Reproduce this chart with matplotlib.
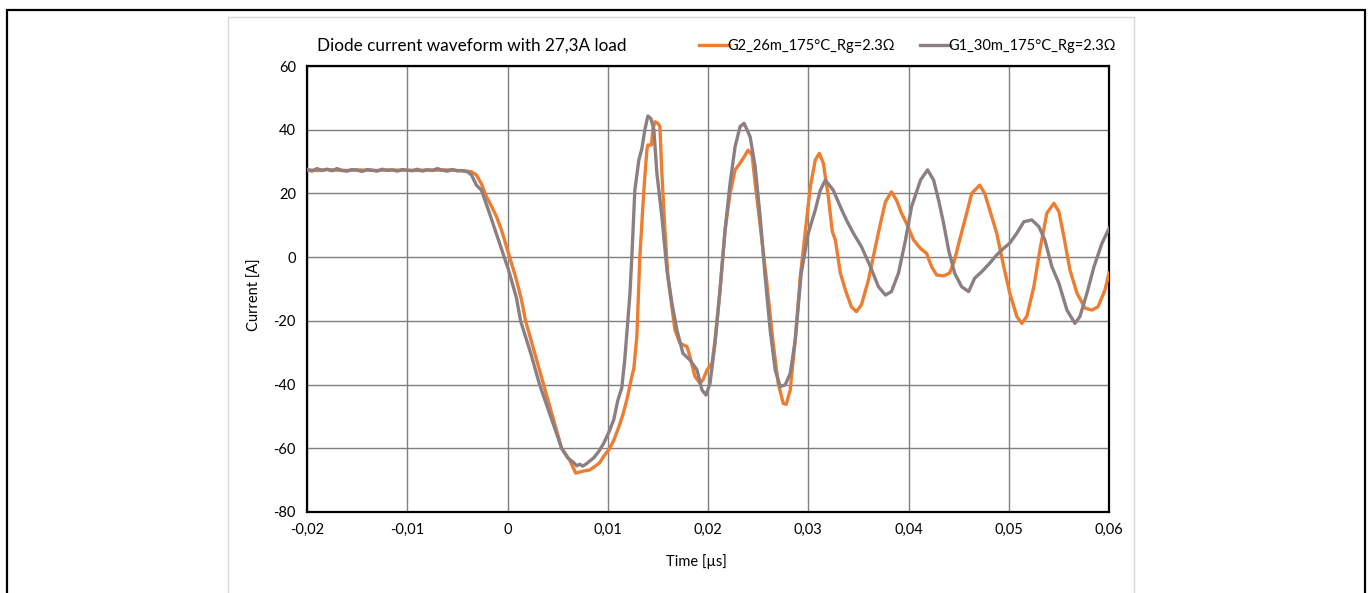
import matplotlib.pyplot as plt
from matplotlib.patches import Rectangle
from matplotlib.ticker import FuncFormatter, MultipleLocator

plt.rcParams['font.family'] = ['Lato', 'DejaVu Sans']
plt.rcParams['axes.unicode_minus'] = False

# G2_26m waveform (time in us, current in A)
t_g2 = [-0.0200, -0.0190, -0.0180, -0.0170, -0.0160, -0.0150, -0.0140, -0.0130,
        -0.0120, -0.0110, -0.0100, -0.0090, -0.0080, -0.0070, -0.0060, -0.0050,
        -0.0041, -0.0036, -0.0031, -0.0026, -0.0021, -0.0016, -0.0011, -0.0006,
        -0.0001, 0.0004, 0.0009, 0.0014, 0.0018, 0.0027, 0.0036, 0.0045,
        0.0054, 0.0062, 0.0068, 0.0075, 0.0082, 0.0088, 0.0092, 0.0096,
        0.0101, 0.0106, 0.0111, 0.0115, 0.0119, 0.0124, 0.0126, 0.0129,
        0.0132, 0.0136, 0.0139, 0.0140, 0.01435, 0.0145, 0.0147, 0.0150,
        0.0152, 0.0154, 0.0157, 0.0160, 0.0164, 0.0167, 0.0172, 0.0179,
        0.0182, 0.0187, 0.0192, 0.0195, 0.0199, 0.0204, 0.0207, 0.0212,
        0.0217, 0.0222, 0.0227, 0.0232, 0.0236, 0.0240, 0.0244, 0.0247,
        0.0252, 0.0258, 0.0265, 0.0270, 0.0275, 0.0278, 0.0282, 0.0287,
        0.0292, 0.0297, 0.0302, 0.0307, 0.0311, 0.0315, 0.0320, 0.0324,
        0.0327, 0.0332, 0.0337, 0.0343, 0.0348, 0.0353, 0.0360, 0.0367,
        0.0372, 0.0377, 0.0383, 0.0388, 0.0393, 0.0398, 0.0405, 0.0412,
        0.0418, 0.0423, 0.0428, 0.0435, 0.0441, 0.0446, 0.0451, 0.0458,
        0.0463, 0.0471, 0.0476, 0.0481, 0.0488, 0.0495, 0.0501, 0.0508,
        0.0513, 0.0518, 0.0525, 0.0531, 0.0538, 0.0545, 0.0550, 0.0555,
        0.0561, 0.0568, 0.0576, 0.0583, 0.0589, 0.0596, 0.0600]
i_g2 = [27.4, 27.2, 27.5, 27.3, 27.2, 27.4, 27.3, 27.2,
        27.4, 27.3, 27.3, 27.2, 27.4, 27.3, 27.4, 27.2,
        27.0, 26.8, 25.8, 23.0, 19.0, 16.0, 12.7, 8.5,
        3.3, -2.0, -7.2, -13.5, -20.0, -30.0, -40.0, -50.0,
        -60.0, -63.7, -67.8, -67.2, -66.8, -65.5, -64.5, -62.5,
        -60.5, -57.5, -53.3, -49.5, -44.8, -37.5, -35.0, -25.0,
        0.0, 21.0, 33.6, 35.2, 35.2, 40.0, 42.5, 42.0,
        41.0, 26.3, 8.5, -6.2, -15.6, -22.9, -27.0, -28.1,
        -31.2, -37.5, -39.6, -38.5, -35.4, -33.3, -26.0, -10.3,
        8.5, 20.0, 27.4, 29.5, 31.5, 33.6, 32.0, 23.2,
        10.0, -6.2, -27.0, -39.6, -45.9, -46.2, -41.7, -26.0,
        -6.2, 8.0, 22.0, 30.5, 32.6, 29.5, 19.0, 8.0,
        5.4, -5.0, -10.3, -15.6, -17.1, -15.0, -7.2, 3.3,
        10.6, 17.4, 20.5, 17.9, 13.8, 10.6, 5.4, 2.7,
        1.2, -3.0, -5.6, -5.9, -5.0, -0.9, 5.4, 13.8,
        20.0, 22.6, 20.0, 14.8, 7.5, -3.0, -11.3, -18.6,
        -20.8, -18.6, -9.3, 2.2, 13.8, 16.9, 14.3, 6.4,
        -4.0, -11.3, -16.0, -16.6, -15.6, -10.3, -5.0]

# G1_30m waveform
t_g1 = [-0.0200, -0.0195, -0.0190, -0.0185, -0.0180, -0.0175, -0.0170, -0.0165,
        -0.0160, -0.0155, -0.0150, -0.0145, -0.0140, -0.0135, -0.0130, -0.0125,
        -0.0120, -0.0115, -0.0110, -0.0105, -0.0100, -0.0095, -0.0090, -0.0085,
        -0.0080, -0.0075, -0.0070, -0.0065, -0.0060, -0.0055, -0.0050, -0.0046,
        -0.0040, -0.0036, -0.0031, -0.0026, -0.0018, -0.0008, 0.0001, 0.0009,
        0.0013, 0.0023, 0.0032, 0.0043, 0.0054, 0.0060, 0.0066, 0.0069,
        0.0072, 0.0075, 0.0079, 0.0082, 0.0086, 0.0091, 0.0096, 0.0101,
        0.0106, 0.0110, 0.0114, 0.0117, 0.0119, 0.0122, 0.0124, 0.0127,
        0.0131, 0.0134, 0.0137, 0.0140, 0.0143, 0.0146, 0.0149, 0.0154,
        0.0159, 0.0164, 0.0169, 0.0175, 0.0182, 0.0189, 0.0194, 0.0198,
        0.0202, 0.0207, 0.0212, 0.0217, 0.0222, 0.0227, 0.0232, 0.0236,
        0.0242, 0.0247, 0.0252, 0.0257, 0.0262, 0.0267, 0.0272, 0.0277,
        0.0282, 0.0287, 0.0293, 0.0300, 0.0307, 0.0312, 0.0317, 0.0325,
        0.0332, 0.0338, 0.0345, 0.0353, 0.0362, 0.0370, 0.0377, 0.0383,
        0.0390, 0.0397, 0.0403, 0.0412, 0.0419, 0.0425, 0.0430, 0.0435,
        0.0440, 0.0446, 0.0453, 0.0460, 0.0466, 0.0473, 0.0481, 0.0488,
        0.0495, 0.0501, 0.0508, 0.0515, 0.0523, 0.0530, 0.0536, 0.0543,
        0.0550, 0.0558, 0.0566, 0.0571, 0.0578, 0.0585, 0.0593, 0.0600]
i_g1 = [27.6, 27.0, 27.8, 27.2, 27.6, 27.1, 27.8, 27.2,
        27.0, 27.5, 27.3, 26.9, 27.5, 27.3, 27.0, 27.6,
        27.2, 27.4, 27.0, 27.5, 27.3, 27.1, 27.6, 27.0,
        27.4, 27.2, 27.8, 27.3, 27.0, 27.5, 27.1, 27.2,
        26.8, 25.8, 22.6, 21.0, 13.8, 4.4, -4.0, -12.9,
        -20.0, -30.0, -40.0, -50.0, -60.0, -63.0, -64.5, -65.5,
        -65.0, -65.6, -64.8, -64.0, -63.0, -61.0, -58.4, -55.0,
        -51.0, -45.0, -41.0, -32.0, -24.0, -12.0, 0.0, 21.0,
        30.5, 34.0, 40.0, 44.3, 43.5, 40.0, 26.3, 12.7,
        -4.0, -14.5, -22.9, -30.2, -32.3, -35.4, -41.7, -43.3,
        -39.6, -27.0, -10.3, 8.5, 23.2, 34.7, 41.0, 42.0,
        37.8, 28.4, 12.7, -6.2, -22.9, -35.4, -40.6, -40.1,
        -36.5, -26.0, -5.0, 7.5, 14.8, 21.0, 24.2, 21.0,
        15.8, 11.7, 7.5, 3.3, -3.0, -9.3, -11.9, -10.8,
        -5.0, 5.4, 15.8, 24.2, 27.4, 24.2, 17.9, 10.6,
        2.2, -5.0, -9.3, -10.8, -6.6, -4.6, -1.9, 0.7,
        2.8, 4.4, 7.5, 11.1, 11.7, 9.6, 5.4, -3.0,
        -8.2, -16.6, -20.8, -18.6, -11.3, -3.0, 4.4, 9.0]

series_labels = ['G2_26m_175°C_Rg=2.3Ω', 'G1_30m_175°C_Rg=2.3Ω']
colors = ['#ED7D31', '#8C7F81']

fig = plt.figure(figsize=(13.7, 5.93), dpi=100)

# outer frame and chart area box
fig.patches.append(Rectangle((0.0051, -0.02), 0.9913, 1.0031, transform=fig.transFigure,
                             fill=False, edgecolor='black', linewidth=1.6))
fig.patches.append(Rectangle((0.1664, -0.02), 0.6613, 0.9913, transform=fig.transFigure,
                             fill=False, edgecolor='#D9D9D9', linewidth=1.0))

ax = fig.add_axes([0.2241, 0.1366, 0.5854, 0.7521])
ax.plot(t_g2, i_g2, color=colors[0], lw=2.4, label=series_labels[0], zorder=3)
ax.plot(t_g1, i_g1, color=colors[1], lw=2.4, label=series_labels[1], zorder=4)

ax.set_xlim(-0.02, 0.06)
ax.set_ylim(-80, 60)
ax.xaxis.set_major_locator(MultipleLocator(0.01))
ax.yaxis.set_major_locator(MultipleLocator(20))
ax.xaxis.set_major_formatter(FuncFormatter(
    lambda v, p: '0' if abs(v) < 1e-9 else ('%.2f' % v).replace('.', ',')))
ax.grid(True, color='#7F7F7F', lw=1.0)
ax.set_axisbelow(True)
for s in ax.spines.values():
    s.set_color('black')
    s.set_linewidth(1.6)
ax.tick_params(length=0, labelsize=10.5, pad=8, colors='black')

fig.text(0.2314, 0.9224, 'Diode current waveform with 27,3A load', fontsize=12.3,
         ha='left', va='center')
fig.text(0.508, 0.053, 'Time [µs]', fontsize=10.5, ha='center', va='center')
fig.text(0.186, 0.5025, 'Current [A]', fontsize=10.5, ha='center', va='center',
         rotation=90)

ax.legend(loc='center left', bbox_to_anchor=(0.4885, 1.045), ncol=2, frameon=False,
          fontsize=10.5, handlelength=2.05, handletextpad=-0.1, columnspacing=1.75,
          borderaxespad=0, borderpad=0)

fig.savefig('out.png', dpi=100)
